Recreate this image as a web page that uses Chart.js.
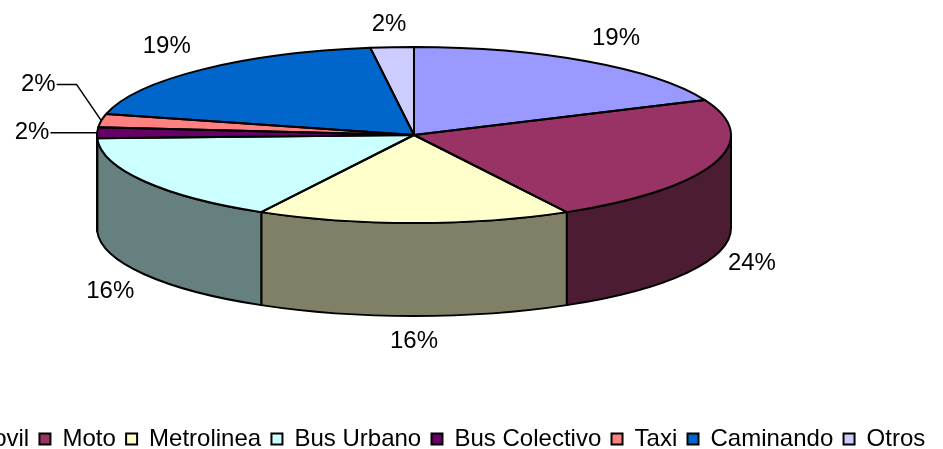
<!DOCTYPE html>
<html>
<head>
<meta charset="utf-8">
<title>Pie</title>
<script src="https://cdn.jsdelivr.net/npm/chart.js@4"></script>
<style>
    html, body { margin: 0; padding: 0; background: #fff; width: 943px; height: 449px; overflow: hidden; }
    #wrap { position: absolute; left: -115px; top: 0; width: 1056px; height: 461px; }
</style>
</head>
<body>
<div id="wrap"><canvas id="pie" width="1056" height="461"></canvas></div>
<script>
// Data
const categories = ['Automovil', 'Moto', 'Metrolinea', 'Bus Urbano', 'Bus Colectivo', 'Taxi', 'Caminando', 'Otros'];
const shares = [18.5, 23.5, 16.0, 16.4, 2.0, 2.45, 18.95, 2.2];
const topColors = ['#9999FF', '#993366', '#FFFFCC', '#CCFFFF', '#660066', '#FF8080', '#0066CC', '#CCCCFF'];
const sideColors = ['#4C4C80', '#4C1C33', '#808066', '#668080', '#330033', '#804040', '#003366', '#666680'];

// Label offsets from the middle of each slice's rim
const labelOffsetX = [28, 38, 0, -34, -65, -63, -35, -3];
const labelOffsetY = [-23, 100, 118, 110, 0, -36, -23, -23];
const hasLeader = [false, false, false, false, true, true, false, false];

// Shape of the tilted pie, in canvas pixels
const pieShape = { cx: 529, cy: 135, rx: 317, ry: 88, depth: 93 };
const FONT = '24px "Liberation Sans", Arial, sans-serif';

function rimPoint(angle) {
    return {
        x: pieShape.cx + pieShape.rx * Math.cos(angle),
        y: pieShape.cy + pieShape.ry * Math.sin(angle)
    };
}

const tiltedPie = {
    id: 'tiltedPie',
    beforeDatasetsDraw(chart) {
        const { ctx } = chart;
        const arcs = chart.getDatasetMeta(0).data;
        const { cx, cy, rx, ry, depth } = pieShape;

        // side wall, only the part facing the viewer
        ctx.save();
        ctx.lineWidth = 2;
        ctx.lineJoin = 'round';
        ctx.strokeStyle = '#000';
        arcs.forEach((arc, i) => {
            const from = Math.max(arc.startAngle, 0);
            const to = Math.min(arc.endAngle, Math.PI);
            if (to <= from) return;
            ctx.beginPath();
            ctx.ellipse(cx, cy, rx, ry, 0, from, to);
            ctx.ellipse(cx, cy + depth, rx, ry, 0, to, from, true);
            ctx.closePath();
            ctx.fillStyle = sideColors[i];
            ctx.fill();
            ctx.stroke();
        });
        ctx.restore();

        // squash the library's round pie on to the top ellipse
        const first = arcs[0];
        ctx.save();
        ctx.translate(cx, cy);
        ctx.scale(rx / first.outerRadius, ry / first.outerRadius);
        ctx.translate(-first.x, -first.y);
    },
    afterDatasetsDraw(chart) {
        const { ctx } = chart;
        ctx.restore();
        const arcs = chart.getDatasetMeta(0).data;
        const { cx, cy, rx, ry } = pieShape;

        ctx.save();
        ctx.lineWidth = 2;
        ctx.lineJoin = 'round';
        ctx.strokeStyle = '#000';
        arcs.forEach(arc => {
            ctx.beginPath();
            ctx.moveTo(cx, cy);
            ctx.ellipse(cx, cy, rx, ry, 0, arc.startAngle, arc.endAngle);
            ctx.closePath();
            ctx.stroke();
        });

        // percent labels and leader lines
        ctx.font = FONT;
        ctx.fillStyle = '#000';
        ctx.textAlign = 'center';
        ctx.textBaseline = 'middle';
        ctx.lineWidth = 1.5;
        arcs.forEach((arc, i) => {
            const rim = rimPoint((arc.startAngle + arc.endAngle) / 2);
            const x = rim.x + labelOffsetX[i];
            const y = rim.y + labelOffsetY[i];
            const text = Math.round(shares[i]) + '%';
            ctx.fillText(text, x, y);
            if (!hasLeader[i]) return;
            const half = ctx.measureText(text).width / 2;
            ctx.beginPath();
            ctx.moveTo(x + half + 1, y);
            if (Math.abs(rim.y - y) > 3) {
                ctx.lineTo(x + half + 21, y);
                ctx.lineTo(rim.x, rim.y);
            } else {
                ctx.lineTo(rim.x, y);
            }
            ctx.stroke();
        });
        ctx.restore();
    }
};

new Chart(document.getElementById('pie'), {
    type: 'pie',
    data: {
        labels: categories,
        datasets: [{
            data: shares,
            backgroundColor: topColors,
            borderWidth: 0,
            clip: false
        }]
    },
    options: {
        responsive: false,
        animation: false,
        events: [],
        plugins: {
            tooltip: { enabled: false },
            legend: {
                position: 'bottom',
                labels: {
                    boxWidth: 11,
                    boxHeight: 11,
                    padding: 10.3,
                    color: '#000',
                    font: { family: '"Liberation Sans", Arial, sans-serif', size: 24 },
                    generateLabels(chart) {
                        const items = Chart.overrides.pie.plugins.legend.labels.generateLabels(chart);
                        items.forEach(item => {
                            item.strokeStyle = '#000';
                            item.lineWidth = 2;
                        });
                        return items;
                    }
                }
            }
        }
    },
    plugins: [tiltedPie]
});
</script>
</body>
</html>
